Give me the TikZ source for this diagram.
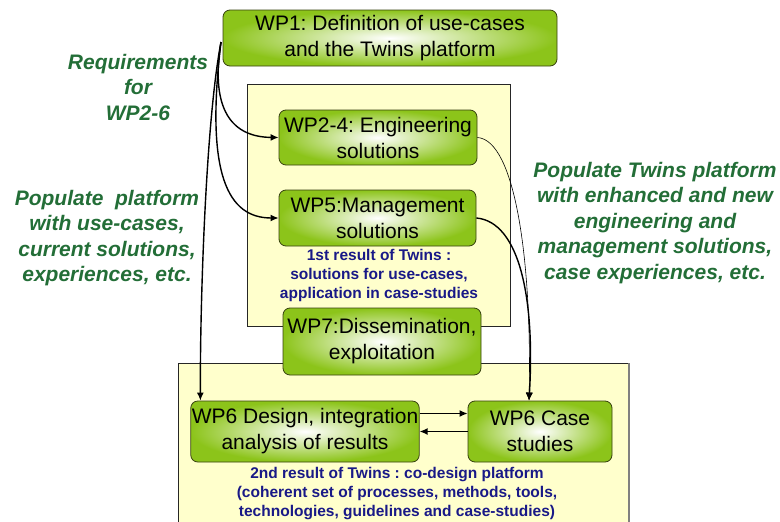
\documentclass[tikz,border=0pt]{standalone}
\usepackage{fontspec}
\setmainfont{Liberation Sans}
\usepackage{tikz}
\usetikzlibrary{calc,positioning,arrows.meta}
\definecolor{wpgreen}{RGB}{140,196,26}
\definecolor{wpborder}{RGB}{55,65,15}
\definecolor{resyellow}{RGB}{255,255,204}
\definecolor{labelgreen}{RGB}{35,110,55}
\definecolor{resblue}{RGB}{25,25,135}
\frenchspacing

\begin{document}
\begin{tikzpicture}[x=1pt,y=-1pt,
  wpbox/.style={draw=wpborder,line width=0.8pt,rounded corners=7pt,inner color=white,outer color=wpgreen,
    align=center,inner sep=1pt,font=\fontsize{21}{26}\selectfont},
  resultbox/.style={draw=black!85,fill=resyellow,line width=0.6pt},
  grouplabel/.style={text=labelgreen,align=center,font=\fontsize{21}{25.5}\selectfont\bfseries\itshape},
  resultlabel/.style={text=resblue,align=center,font=\fontsize{15.5}{19}\selectfont\bfseries},
  flow/.style={-{Latex[length=8pt,width=7pt]},line width=1.4pt},
  thinflow/.style={-{Latex[length=8pt,width=7pt]},line width=0.6pt}]
\useasboundingbox (0,0) rectangle (780,522);
\draw[resultbox] (247,84) rectangle (510,326);
\draw[resultbox] (178,363) rectangle (629,530);
\draw[gray,line width=1.5pt] (629,363) -- (629,530);

\node[wpbox,minimum width=334pt,minimum height=56pt] (wpone) at (390,38) {WP1: Definition of use-cases\\and the Twins platform};
\node[wpbox,minimum width=198pt,minimum height=55pt] (wptwo) at (378,137.5) {WP2-4: Engineering\\solutions};
\node[wpbox,minimum width=197pt,minimum height=56pt] (wpfive) at (377.5,218) {WP5:Management\\solutions};
\node[resultlabel] (resone) at (379,275) {1st result of Twins :\\solutions for use-cases,\\application in case-studies};
\node[wpbox,minimum width=198pt,minimum height=67pt] (wpseven) at (382,341.5) {WP7:Dissemination,\\exploitation};
\node[wpbox,minimum width=228pt,minimum height=61pt] (wpsixd) at (305,431.5) {WP6 Design, integration\\analysis of results};
\node[wpbox,minimum width=144pt,minimum height=61pt] (wpsixc) at (540,431.5) {WP6 Case\\studies};
\node[resultlabel] (restwo) at (397,494) {2nd result of Twins : co-design platform\\(coherent set of processes, methods, tools,\\technologies, guidelines and case-studies)};

\node[grouplabel] (req) at (138,87) {Requirements\\for\\WP2-6};
\node[grouplabel] (popleft) at (107,238) {Populate\ \ platform\\with use-cases,\\current solutions,\\experiences, etc.};
\node[grouplabel] (popright) at (655,223) {Populate Twins platform\\with enhanced and new\\engineering and\\management solutions,\\case experiences, etc.};

\coordinate (src) at (221,42);
\draw[flow] (src) .. controls (210,110) and (232,137) .. (wptwo.west);
\draw[flow] (src) .. controls (205,175) and (228,218) .. (wpfive.west);
\draw[flow] (src) .. controls (206,120) and (200,300) .. ([xshift=10pt]wpsixd.north west);
\draw[thinflow] (wptwo.east) .. controls (515,140) and (532,260) .. ([xshift=-11pt]wpsixc.north);
\draw[flow] (wpfive.east) .. controls (520,222) and (535,300) .. ([xshift=-11pt]wpsixc.north);
\draw[flow] ([yshift=18pt]wpsixd.east) -- ([yshift=18pt]wpsixc.west);
\draw[flow] (wpsixc.west) -- (wpsixd.east);
\end{tikzpicture}
\end{document}
